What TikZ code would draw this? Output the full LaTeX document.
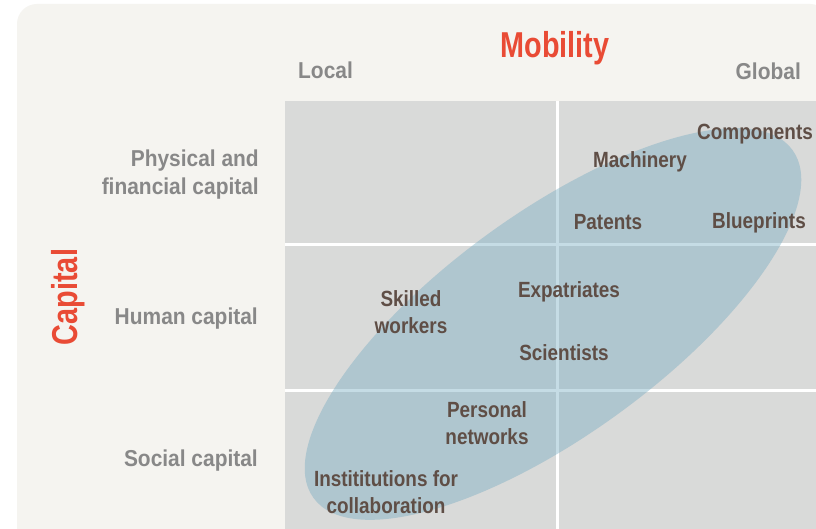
\documentclass[tikz,border=0pt]{standalone}
\usepackage{fontspec}
\setmainfont{Liberation Sans}[FakeStretch=0.86]
\newfontfamily\headfont{Liberation Sans}[FakeStretch=0.80]
\newfontfamily\axisfont{Liberation Sans}[FakeStretch=0.91]
\definecolor{panelbg}{HTML}{F5F4F0}
\definecolor{cellgray}{HTML}{D9DAD9}
\definecolor{blobblue}{RGB}{112,168,192}
\definecolor{headred}{HTML}{E94B35}
\definecolor{axisgray}{HTML}{888888}
\definecolor{itembrown}{HTML}{5F4E46}
\tikzset{
  headlabel/.style={font=\headfont\bfseries\fontsize{36}{40}\selectfont, text=headred, inner sep=0pt},
  axislabel/.style={font=\axisfont\bfseries\fontsize{23}{28.5}\selectfont, text=axisgray, inner sep=0pt, align=right},
  itemlabel/.style={font=\bfseries\fontsize{22}{26.5}\selectfont, text=itembrown, inner sep=0pt, align=center},
  gridline/.style={draw=white, line width=3pt}
}
\begin{document}
\begin{tikzpicture}[x=1pt, y=-1pt]
  \useasboundingbox (0,0) rectangle (816,529);
  \clip (0,0) rectangle (816,529);
  % panel and quadrant field
  \fill[white] (0,0) rectangle (816,529);
  \fill[panelbg, rounded corners=20pt] (17,4) rectangle (830,560);
  \fill[cellgray] (285,101) rectangle (830,560);
  \draw[gridline] (557,101) -- (557,560);
  \draw[gridline] (285,245) -- (830,245);
  \draw[gridline] (285,390) -- (830,390);
  % shaded zone of mobile capital
  \fill[blobblue, fill opacity=0.4, rotate around={36:(553,324)}] (553,324) ellipse [x radius=296pt, y radius=111pt];

  % axis titles
  \node[headlabel, anchor=base] (mob) at (555,58) {Mobility};
  \node[headlabel, anchor=base, rotate=90] (cap) at (77,297) {Capital};

  % mobility scale
  \node[axislabel, anchor=base west] (local) at (298,79) {Local};
  \node[axislabel, anchor=base east] (global) at (801,80) {Global};

  % capital rows (multi-line nodes sit on the baseline of their last line)
  \node[axislabel, anchor=base east] (phys) at (259,195) {Physical and\\financial capital};
  \node[axislabel, anchor=base east] (human) at (258,324) {Human capital};
  \node[axislabel, anchor=base east] (social) at (258,466) {Social capital};

  % items
  \node[itemlabel, anchor=base west] (comp) at (697,140) {Components};
  \node[itemlabel, anchor=base west] (mach) at (593,168) {Machinery};
  \node[itemlabel, anchor=base] (pat) at (608,230) {Patents};
  \node[itemlabel, anchor=base west] (blue) at (712,229) {Blueprints};
  \node[itemlabel, anchor=base] (expat) at (569,297) {Expatriates};
  \node[itemlabel, anchor=base] (skill) at (411,333) {Skilled\\workers};
  \node[itemlabel, anchor=base] (sci) at (564,360) {Scientists};
  \node[itemlabel, anchor=base] (pers) at (487,444) {Personal\\networks};
  \node[itemlabel, anchor=base] (inst) at (386,513) {Instititutions for\\collaboration};
\end{tikzpicture}
\end{document}
